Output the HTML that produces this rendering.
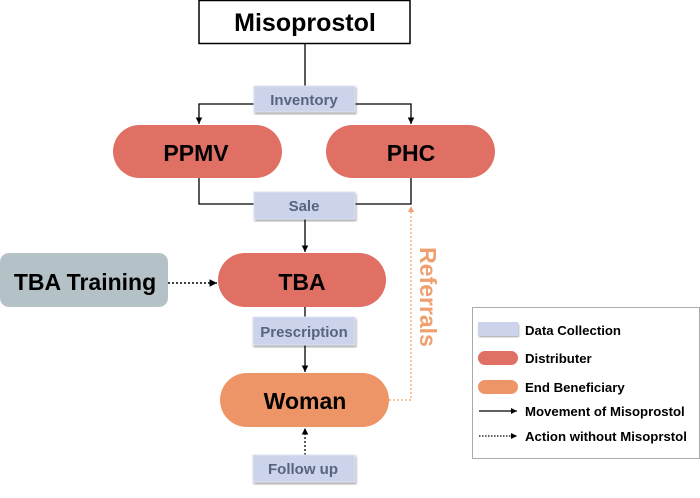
<!DOCTYPE html>
<html><head><style>
body{margin:0;background:#fff;}
svg text{font-family:"Liberation Sans",sans-serif;font-weight:bold;}
</style></head><body>
<svg width="700" height="493" viewBox="0 0 700 493" xmlns="http://www.w3.org/2000/svg">
<defs>
<marker id="a" markerWidth="6" markerHeight="6" refX="5" refY="3" orient="auto"><path d="M0,0.5 L5,3 L0,5.5z" fill="#000"/></marker>
<marker id="ao" markerWidth="6" markerHeight="6" refX="5" refY="3" orient="auto"><path d="M0,0.5 L5,3 L0,5.5z" fill="#f0a070"/></marker>
<filter id="s"><feDropShadow dx="1" dy="2" stdDeviation="1" flood-opacity="0.3"/></filter>
</defs>
<rect x="199" y="0.5" width="211" height="43" fill="#fff" stroke="#000" stroke-width="1.5"/>
<text x="305" y="31" font-size="25" text-anchor="middle">Misoprostol</text>
<line x1="305" y1="43" x2="305" y2="90" stroke="#000" stroke-width="1.3"/>
<polyline points="254,104 199,104 199,124" fill="none" stroke="#000" stroke-width="1.3" marker-end="url(#a)"/>
<polyline points="355,104 411,104 411,124" fill="none" stroke="#000" stroke-width="1.3" marker-end="url(#a)"/>
<polyline points="199,178 199,204 411,204 411,178" fill="none" stroke="#000" stroke-width="1.3"/>
<line x1="305" y1="219" x2="305" y2="252" stroke="#000" stroke-width="1.3" marker-end="url(#a)"/>
<line x1="168" y1="283" x2="217" y2="283" stroke="#000" stroke-width="1.5" stroke-dasharray="2,2" marker-end="url(#a)"/>
<line x1="305" y1="307" x2="305" y2="372" stroke="#000" stroke-width="1.3" marker-end="url(#a)"/>
<line x1="305" y1="455" x2="305" y2="428" stroke="#000" stroke-width="1.3" stroke-dasharray="2,2" marker-end="url(#a)"/>
<polyline points="389,400 411,400 411,206" fill="none" stroke="#f0a070" stroke-width="1.2" stroke-dasharray="2,2" marker-end="url(#ao)"/>
<rect x="254" y="86" width="101" height="26" fill="#cbd4ea" stroke="#dde3f2" filter="url(#s)"/>
<text x="304" y="105" font-size="15" fill="#5a6380" text-anchor="middle">Inventory</text>
<rect x="254" y="192" width="101" height="27" fill="#cbd4ea" stroke="#dde3f2" filter="url(#s)"/>
<text x="304" y="211" font-size="15" fill="#5a6380" text-anchor="middle">Sale</text>
<rect x="253" y="317" width="102" height="28" fill="#cbd4ea" stroke="#dde3f2" filter="url(#s)"/>
<text x="304" y="337" font-size="15" fill="#5a6380" text-anchor="middle">Prescription</text>
<rect x="253" y="455" width="102" height="27" fill="#cbd4ea" stroke="#dde3f2" filter="url(#s)"/>
<text x="303" y="474" font-size="15" fill="#5a6380" text-anchor="middle">Follow up</text>
<rect x="113" y="125" width="169" height="53" rx="26.5" fill="#e07064"/>
<text x="196" y="161" font-size="23" text-anchor="middle">PPMV</text>
<rect x="326" y="125" width="169" height="53" rx="26.5" fill="#e07064"/>
<text x="411" y="161" font-size="23" text-anchor="middle">PHC</text>
<rect x="218" y="253" width="168" height="54" rx="27" fill="#e07064"/>
<text x="302" y="290" font-size="23" text-anchor="middle">TBA</text>
<rect x="0" y="253" width="168" height="54" rx="9" fill="#b4c2c8"/>
<text x="85" y="290" font-size="23" text-anchor="middle">TBA Training</text>
<rect x="220" y="373" width="169" height="54" rx="27" fill="#ee9568"/>
<text x="305" y="409" font-size="23" text-anchor="middle">Woman</text>
<text transform="translate(420,297) rotate(90)" font-size="23" fill="#f0a070" text-anchor="middle">Referrals</text>
<rect x="472.5" y="307.5" width="227" height="151" fill="#fff" stroke="#aaa"/>
<rect x="478" y="322" width="40" height="14" fill="#cbd4ea" filter="url(#s)"/>
<rect x="478" y="351" width="40" height="14" rx="7" fill="#e07064"/>
<rect x="478" y="380" width="40" height="14" rx="7" fill="#ee9568"/>
<line x1="479" y1="411" x2="517" y2="411" stroke="#000" stroke-width="1.2" marker-end="url(#a)"/>
<line x1="479" y1="436" x2="517" y2="436" stroke="#000" stroke-width="1.2" stroke-dasharray="1.5,1.5" marker-end="url(#a)"/>
<g font-size="13.2">
<text x="525" y="335">Data Collection</text>
<text x="525" y="363">Distributer</text>
<text x="525" y="392">End Beneficiary</text>
<text x="525" y="416">Movement of Misoprostol</text>
<text x="525" y="441">Action without Misoprstol</text>
</g>
</svg>
</body></html>
